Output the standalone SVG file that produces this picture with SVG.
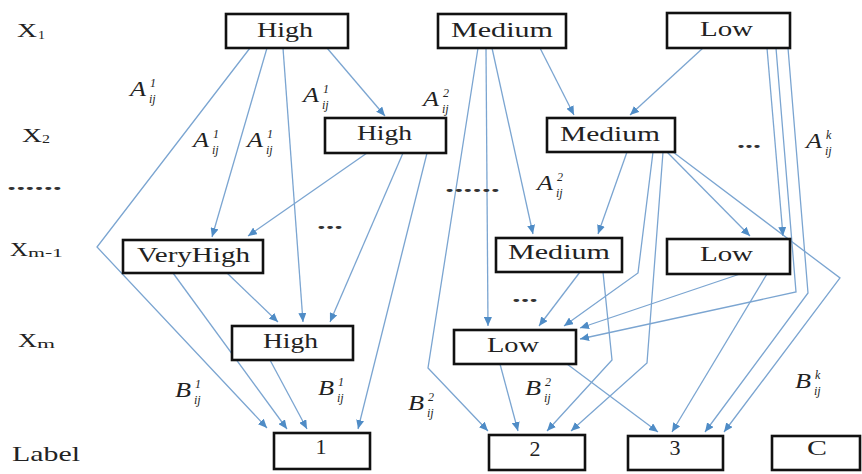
<svg xmlns="http://www.w3.org/2000/svg" width="862" height="474" viewBox="0 0 862 474">
<style>
.box{fill:#fff;stroke:#111;stroke-width:2.6}
.t{font-family:"Liberation Serif","Times New Roman",serif;font-size:22px;fill:#222}
.rl{font-family:"Liberation Serif","Times New Roman",serif;font-size:18px;fill:#222}
.rs{font-family:"Liberation Serif","Times New Roman",serif;font-size:12px;fill:#222}
.m{font-family:"Liberation Serif","Times New Roman",serif;font-style:italic;fill:#222}
.mA{font-size:20px}
.ms{font-size:12px}
.d{font-family:"Liberation Serif","Times New Roman",serif;font-size:18px;font-weight:bold;fill:#333}
.e{fill:none;stroke:#7ba5d1;stroke-width:1.3}
</style>
<defs>
<marker id="ah" markerUnits="userSpaceOnUse" markerWidth="10" markerHeight="8" refX="9" refY="4" orient="auto">
<path d="M0,0 L9,4 L0,8 z" fill="#4f8cc6"/>
</marker>
</defs>
<rect width="862" height="474" fill="#fff"/>

<g id="row-labels">
<text class="rl" x="17" y="37" textLength="20" lengthAdjust="spacingAndGlyphs">X</text><text class="rs" x="38" y="39" textLength="7" lengthAdjust="spacingAndGlyphs">1</text>
<text class="rl" x="22" y="142" textLength="20" lengthAdjust="spacingAndGlyphs">X</text><text class="rs" x="42" y="143" textLength="8" lengthAdjust="spacingAndGlyphs">2</text>
<text class="d" x="7" y="190" textLength="55" lengthAdjust="spacingAndGlyphs">......</text>
<text class="rl" x="10" y="256" textLength="18" lengthAdjust="spacingAndGlyphs">X</text><text class="rs" x="28" y="257" textLength="35" lengthAdjust="spacingAndGlyphs">m-1</text>
<text class="rl" x="18" y="347" textLength="19" lengthAdjust="spacingAndGlyphs">X</text><text class="rs" x="37" y="348" textLength="18" lengthAdjust="spacingAndGlyphs">m</text>
<text class="t" x="12" y="461" textLength="68" lengthAdjust="spacingAndGlyphs">Label</text>
</g>

<g id="connectors">
<polyline class="e" points="250,48 97,247 267,428" marker-end="url(#ah)"/>
<line class="e" x1="267" y1="48" x2="212" y2="237" marker-end="url(#ah)"/>
<line class="e" x1="283" y1="48" x2="303" y2="322" marker-end="url(#ah)"/>
<line class="e" x1="327" y1="48" x2="385" y2="116" marker-end="url(#ah)"/>
<line class="e" x1="367" y1="153" x2="248" y2="236" marker-end="url(#ah)"/>
<line class="e" x1="403" y1="153" x2="330" y2="322" marker-end="url(#ah)"/>
<line class="e" x1="427" y1="153" x2="358" y2="429" marker-end="url(#ah)"/>
<line class="e" x1="227" y1="273" x2="278" y2="322" marker-end="url(#ah)"/>
<line class="e" x1="173" y1="273" x2="287" y2="429" marker-end="url(#ah)"/>
<line class="e" x1="270" y1="360" x2="307" y2="429" marker-end="url(#ah)"/>
<polyline class="e" points="478,48 428,368 488,431" marker-end="url(#ah)"/>
<line class="e" x1="486" y1="48" x2="488" y2="326" marker-end="url(#ah)"/>
<line class="e" x1="492" y1="48" x2="533" y2="234" marker-end="url(#ah)"/>
<line class="e" x1="540" y1="48" x2="574" y2="115" marker-end="url(#ah)"/>
<line class="e" x1="703" y1="48" x2="630" y2="115" marker-end="url(#ah)"/>
<line class="e" x1="627" y1="152" x2="598" y2="234" marker-end="url(#ah)"/>
<polyline class="e" points="653,152 638,273 564,326" marker-end="url(#ah)"/>
<polyline class="e" points="663,152 647,363 571,431" marker-end="url(#ah)"/>
<line class="e" x1="667" y1="152" x2="750" y2="236" marker-end="url(#ah)"/>
<polyline class="e" points="673,152 840,278 724,432" marker-end="url(#ah)"/>
<line class="e" x1="580" y1="272" x2="539" y2="326" marker-end="url(#ah)"/>
<polyline class="e" points="603,272 612,360 547,431" marker-end="url(#ah)"/>
<line class="e" x1="740" y1="274" x2="580" y2="328" marker-end="url(#ah)"/>
<line class="e" x1="767" y1="274" x2="672" y2="432" marker-end="url(#ah)"/>
<line class="e" x1="767" y1="48" x2="783" y2="236" marker-end="url(#ah)"/>
<polyline class="e" points="776,48 796,292 580,339" marker-end="url(#ah)"/>
<polyline class="e" points="788,48 808,293 705,432" marker-end="url(#ah)"/>
<line class="e" x1="500" y1="364" x2="518" y2="431" marker-end="url(#ah)"/>
<line class="e" x1="567" y1="364" x2="658" y2="432" marker-end="url(#ah)"/>
</g>

<g id="n-x1-high"><rect class="box" x="226" y="14" width="122" height="34"/><text class="t" x="257" y="37" textLength="56" lengthAdjust="spacingAndGlyphs">High</text></g>
<g id="n-x1-medium"><rect class="box" x="438" y="14" width="128" height="34"/><text class="t" x="451" y="37" textLength="102" lengthAdjust="spacingAndGlyphs">Medium</text></g>
<g id="n-x1-low"><rect class="box" x="667" y="13" width="123" height="35"/><text class="t" x="700" y="36" textLength="53" lengthAdjust="spacingAndGlyphs">Low</text></g>
<g id="n-x2-high"><rect class="box" x="325" y="118" width="121" height="35"/><text class="t" x="357" y="140" textLength="55" lengthAdjust="spacingAndGlyphs">High</text></g>
<g id="n-x2-medium"><rect class="box" x="547" y="118" width="128" height="34"/><text class="t" x="560" y="141" textLength="100" lengthAdjust="spacingAndGlyphs">Medium</text></g>
<g id="n-xm1-veryhigh"><rect class="box" x="123" y="240" width="140" height="33"/><text class="t" x="137" y="262" textLength="113" lengthAdjust="spacingAndGlyphs">VeryHigh</text></g>
<g id="n-xm1-medium"><rect class="box" x="496" y="238" width="126" height="34"/><text class="t" x="508" y="259" textLength="102" lengthAdjust="spacingAndGlyphs">Medium</text></g>
<g id="n-xm1-low"><rect class="box" x="667" y="239" width="123" height="35"/><text class="t" x="700" y="261" textLength="53" lengthAdjust="spacingAndGlyphs">Low</text></g>
<g id="n-xm-high"><rect class="box" x="232" y="326" width="121" height="34"/><text class="t" x="263" y="348" textLength="55" lengthAdjust="spacingAndGlyphs">High</text></g>
<g id="n-xm-low"><rect class="box" x="454" y="330" width="122" height="34"/><text class="t" x="487" y="352" textLength="52" lengthAdjust="spacingAndGlyphs">Low</text></g>
<g id="n-label-1"><rect class="box" x="274" y="433" width="96" height="36"/><text class="t" x="321" y="454" text-anchor="middle">1</text></g>
<g id="n-label-2"><rect class="box" x="489" y="435" width="96" height="35"/><text class="t" x="535" y="456" text-anchor="middle">2</text></g>
<g id="n-label-3"><rect class="box" x="628" y="436" width="95" height="34"/><text class="t" x="675" y="455" text-anchor="middle">3</text></g>
<g id="n-label-c"><rect class="box" x="772" y="436" width="88" height="34"/><text class="t" x="817" y="455" text-anchor="middle" textLength="20" lengthAdjust="spacingAndGlyphs">C</text></g>

<g id="edge-labels">
<g transform="translate(130,96)"><text class="m mA" x="0" y="0" textLength="16" lengthAdjust="spacingAndGlyphs">A</text><text class="m ms" x="20" y="-9">1</text><text class="m ms" x="19" y="7">ij</text></g>
<g transform="translate(193,147)"><text class="m mA" x="0" y="0" textLength="16" lengthAdjust="spacingAndGlyphs">A</text><text class="m ms" x="20" y="-9">1</text><text class="m ms" x="19" y="7">ij</text></g>
<g transform="translate(247,147)"><text class="m mA" x="0" y="0" textLength="16" lengthAdjust="spacingAndGlyphs">A</text><text class="m ms" x="20" y="-9">1</text><text class="m ms" x="19" y="7">ij</text></g>
<g transform="translate(303,102)"><text class="m mA" x="0" y="0" textLength="16" lengthAdjust="spacingAndGlyphs">A</text><text class="m ms" x="20" y="-9">1</text><text class="m ms" x="19" y="7">ij</text></g>
<g transform="translate(423,106)"><text class="m mA" x="0" y="0" textLength="16" lengthAdjust="spacingAndGlyphs">A</text><text class="m ms" x="20" y="-9">2</text><text class="m ms" x="19" y="7">ij</text></g>
<g transform="translate(537,190)"><text class="m mA" x="0" y="0" textLength="16" lengthAdjust="spacingAndGlyphs">A</text><text class="m ms" x="20" y="-9">2</text><text class="m ms" x="19" y="7">ij</text></g>
<g transform="translate(806,148)"><text class="m mA" x="0" y="0" textLength="16" lengthAdjust="spacingAndGlyphs">A</text><text class="m ms" x="20" y="-9">k</text><text class="m ms" x="19" y="7">ij</text></g>
<g transform="translate(175,397)"><text class="m mA" x="0" y="0" textLength="16" lengthAdjust="spacingAndGlyphs">B</text><text class="m ms" x="20" y="-9">1</text><text class="m ms" x="19" y="7">ij</text></g>
<g transform="translate(318,395)"><text class="m mA" x="0" y="0" textLength="16" lengthAdjust="spacingAndGlyphs">B</text><text class="m ms" x="20" y="-9">1</text><text class="m ms" x="19" y="7">ij</text></g>
<g transform="translate(408,410)"><text class="m mA" x="0" y="0" textLength="16" lengthAdjust="spacingAndGlyphs">B</text><text class="m ms" x="20" y="-9">2</text><text class="m ms" x="19" y="7">ij</text></g>
<g transform="translate(525,395)"><text class="m mA" x="0" y="0" textLength="16" lengthAdjust="spacingAndGlyphs">B</text><text class="m ms" x="20" y="-9">2</text><text class="m ms" x="19" y="7">ij</text></g>
<g transform="translate(795,388)"><text class="m mA" x="0" y="0" textLength="16" lengthAdjust="spacingAndGlyphs">B</text><text class="m ms" x="20" y="-9">k</text><text class="m ms" x="19" y="7">ij</text></g>
</g>

<g id="dots">
<text class="d" x="445" y="192" textLength="55" lengthAdjust="spacingAndGlyphs">......</text>
<text class="d" x="317" y="229" textLength="26" lengthAdjust="spacingAndGlyphs">...</text>
<text class="d" x="512" y="302" textLength="26" lengthAdjust="spacingAndGlyphs">...</text>
<text class="d" x="737" y="148" textLength="24" lengthAdjust="spacingAndGlyphs">...</text>
</g>
</svg>
